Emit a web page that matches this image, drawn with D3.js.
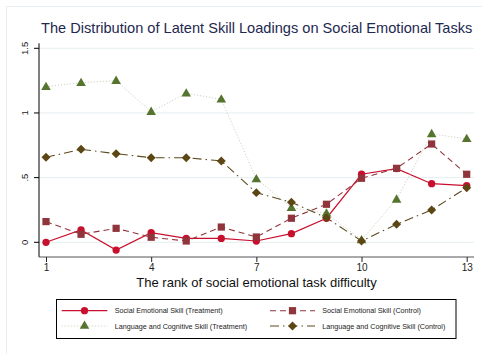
<!DOCTYPE html>
<html><head><meta charset="utf-8">
<script src="https://cdn.jsdelivr.net/npm/d3@7"></script>
<style>html,body{margin:0;padding:0;background:#fff;}svg{display:block;font-family:"Liberation Sans",Arial,sans-serif;}</style>
</head><body>
<script>
const ranks = [1,2,3,4,5,6,7,8,9,10,11,12,13];
const xTicks = [1,4,7,10,13];
const yTicks = [0,0.5,1,1.5];
const yTickLabels = ["0",".5","1","1.5"];
const seTreatment = [0.00,0.095,-0.06,0.075,0.03,0.03,0.01,0.067,0.186,0.526,0.57,0.453,0.438];
const seControl   = [0.16,0.062,0.108,0.039,0.01,0.118,0.041,0.186,0.294,0.495,0.572,0.76,0.526];
const lcTreatment = [1.203,1.234,1.25,1.01,1.152,1.106,0.49,0.268,0.224,0.018,0.332,0.838,0.80];
const lcControl   = [0.657,0.719,0.685,0.654,0.654,0.629,0.384,0.309,0.19,0.01,0.139,0.25,0.422];
const seriesNames = ["Social Emotional Skill (Treatment)","Social Emotional Skill (Control)","Language and Cognitive Skill (Treatment)","Language and Cognitive Skill (Control)"];
const titleText = "The Distribution of Latent Skill Loadings on Social Emotional Tasks";
const xLabel = "The rank of social emotional task difficulty";

const W=482,H=354;
const svg=d3.select("body").append("svg").attr("width",W).attr("height",H);
svg.append("rect").attr("x",0).attr("y",0).attr("width",W).attr("height",H).attr("fill","#fff");
svg.append("rect").attr("x",6.5).attr("y",6.5).attr("width",W+20).attr("height",H+20).attr("fill","none").attr("stroke","#e6eef1").attr("stroke-width",1);

const x=d3.scaleLinear().domain([1,13]).range([46,466.7]);
const y=d3.scaleLinear().domain([0,1.5]).range([242.3,48.3]);
const plotL=39, plotR=474, plotB=257;

svg.append("g").selectAll("line").data(yTicks).join("line")
 .attr("x1",plotL).attr("x2",plotR).attr("y1",d=>y(d)).attr("y2",d=>y(d))
 .attr("stroke","#e4eef0").attr("stroke-width",1);

svg.append("text").attr("x",256.7).attr("y",33).attr("text-anchor","middle")
 .attr("font-size",14.6).attr("fill","#1e2850").text(titleText);

const yAxis=d3.axisLeft(y).tickValues(yTicks).tickFormat((d,i)=>yTickLabels[i]).tickSize(5).tickPadding(4);
const gy=svg.append("g").attr("transform",`translate(${plotL},0)`).call(yAxis);
gy.select(".domain").attr("d",`M0,${y(1.5)-5}V${plotB}`).attr("stroke","#000");
gy.selectAll(".tick line").attr("stroke","#000");
gy.selectAll(".tick text").attr("font-size",9.5).attr("fill","#222").attr("font-family","Liberation Sans, Arial, sans-serif")
 .attr("transform",function(d){return `translate(${-14},${y(d)}) rotate(-90)`;})
 .attr("x",0).attr("y",0).attr("dy","0.35em").attr("text-anchor","middle");
gy.selectAll(".tick").attr("transform",null);
gy.selectAll(".tick line").attr("y1",d=>y(d)).attr("y2",d=>y(d)).attr("x2",-5);

const xAxis=d3.axisBottom(x).tickValues(xTicks).tickFormat(d3.format("d")).tickSize(5).tickPadding(2);
const gx=svg.append("g").attr("transform",`translate(0,${plotB})`).call(xAxis);
gx.select(".domain").attr("d",`M${plotL},0H${plotR}`).attr("stroke","#555");
gx.selectAll(".tick line").attr("stroke","#222");
gx.selectAll(".tick text").attr("font-size",10).attr("fill","#222").attr("font-family","Liberation Sans, Arial, sans-serif");

svg.append("text").attr("x",256.5).attr("y",287).attr("text-anchor","middle")
 .attr("font-size",13).attr("fill","#111").text(xLabel);

const styles=[
 {data:seTreatment,color:"#c8102e",mcolor:"#c8102e",dash:null,w:1.2,marker:"circle"},
 {data:seControl,color:"#90353b",mcolor:"#90353b",dash:"6,4",w:1.1,marker:"square"},
 {data:lcTreatment,color:"#c9c9b6",mcolor:"#55752f",dash:"1,2",w:1,marker:"triangle"},
 {data:lcControl,color:"#5c4a1c",mcolor:"#5c4614",dash:"9,4,1.5,4",w:1.1,marker:"diamond"}
];
const symMap={circle:[d3.symbolCircle,42,0],square:[d3.symbolSquare,52,0],triangle:[d3.symbolTriangle,40,0],diamond:[d3.symbolSquare,40,45]};
const line=d3.line().x((d,i)=>x(ranks[i])).y(d=>y(d));

styles.forEach(s=>{
  svg.append("path").datum(s.data).attr("d",line).attr("fill","none")
   .attr("stroke",s.color).attr("stroke-width",s.w).attr("stroke-dasharray",s.dash);
});
styles.forEach(s=>{
  const sm=symMap[s.marker];
  const sym=d3.symbol().type(sm[0]).size(sm[1]);
  svg.append("g").selectAll("path").data(s.data).join("path")
   .attr("d",sym).attr("fill",s.mcolor)
   .attr("transform",(d,i)=>`translate(${x(ranks[i])},${y(d)+(s.marker==="triangle"?0.5:0)}) rotate(${sm[2]})`);
});

svg.append("rect").attr("x",56.5).attr("y",299.5).attr("width",399.5).attr("height",39).attr("fill","#fff").attr("stroke","#000").attr("stroke-width",1);
const legPos=[{x1:61.7,x2:107.3,y:310.7,tx:114.7},{x1:270,x2:315,y:310.7,tx:322.3},{x1:61.7,x2:107.3,y:326,tx:114.7},{x1:270,x2:315,y:326,tx:322.3}];
styles.forEach((s,i)=>{
  const p=legPos[i];
  svg.append("line").attr("x1",p.x1).attr("x2",p.x2).attr("y1",p.y).attr("y2",p.y)
   .attr("stroke",s.color).attr("stroke-width",s.w).attr("stroke-dasharray",s.dash);
  const sm=symMap[s.marker];
  svg.append("path").attr("d",d3.symbol().type(sm[0]).size(sm[1])).attr("fill",s.mcolor)
   .attr("transform",`translate(${(p.x1+p.x2)/2},${p.y}) rotate(${sm[2]})`);
  svg.append("text").attr("x",p.tx).attr("y",p.y).attr("dy","0.35em").attr("font-size",7.2).attr("fill","#222").text(seriesNames[i]);
});
</script>
</body></html>
